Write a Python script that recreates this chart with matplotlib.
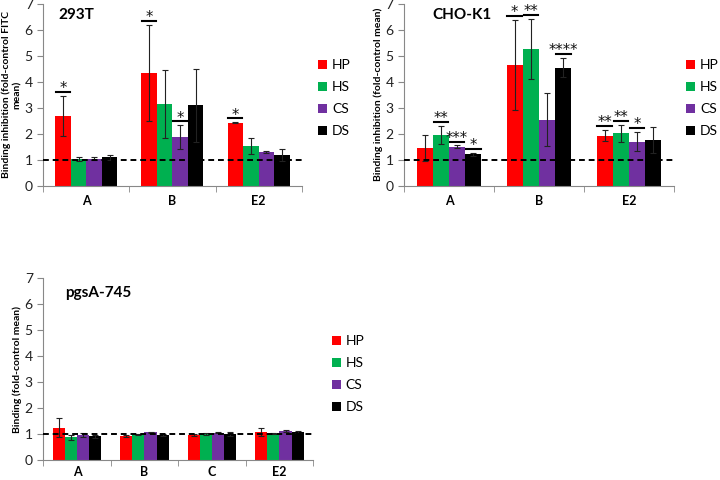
import numpy as np
import matplotlib.pyplot as plt

plt.rcParams['font.family'] = ['Lato', 'DejaVu Sans']

series = ['HP', 'HS', 'CS', 'DS']
colors = ['#ff0000', '#00b050', '#7030a0', '#000000']

# 293T
cats_293 = ['A', 'B', 'E2']
vals_293 = [[2.68, 4.33, 2.42],
            [1.01, 3.13, 1.53],
            [1.03, 1.86, 1.29],
            [1.08, 3.09, 1.17]]
err_293 = [[0.77, 1.86, 0.02],
           [0.07, 1.32, 0.30],
           [0.06, 0.46, 0.05],
           [0.08, 1.41, 0.23]]
stars_293 = [(0, 0, '*'), (1, 0, '*'), (1, 2, '*'), (2, 0, '*')]

# CHO-K1
cats_cho = ['A', 'B', 'E2']
vals_cho = [[1.46, 4.65, 1.92],
            [1.95, 5.26, 2.01],
            [1.49, 2.54, 1.69],
            [1.21, 4.54, 1.76]]
err_cho = [[0.50, 1.73, 0.22],
           [0.35, 1.16, 0.33],
           [0.05, 1.03, 0.38],
           [0.06, 0.38, 0.51]]
stars_cho = [(0, 1, '**'), (0, 2, '***'), (0, 3, '*'),
             (1, 0, '*'), (1, 1, '**'), (1, 3, '****'),
             (2, 0, '**'), (2, 1, '**'), (2, 2, '*')]

# pgsA-745
cats_pgs = ['A', 'B', 'C', 'E2']
vals_pgs = [[1.24, 0.92, 0.97, 1.08],
            [0.87, 0.99, 1.00, 1.01],
            [0.96, 1.06, 1.05, 1.11],
            [0.92, 0.95, 1.00, 1.07]]
err_pgs = [[0.37, 0.05, 0.03, 0.14],
           [0.10, 0.02, 0.03, 0.02],
           [0.06, 0.03, 0.03, 0.05],
           [0.06, 0.04, 0.08, 0.03]]
stars_pgs = []


def panel(ax, cats, vals, errs, stars, title, ylabel, title_xy, xpad=7):
    n = len(cats)
    x = np.arange(n)
    w = 0.18
    offs = (np.arange(4) - 1.5) * w
    for i in range(4):
        ax.bar(x + offs[i], vals[i], w, color=colors[i], label=series[i], zorder=2)
        ax.errorbar(x + offs[i], vals[i], yerr=errs[i], fmt='none', ecolor='#222222',
                    elinewidth=0.8, capsize=2.5, capthick=0.8, zorder=3)
    for c, s, txt in stars:
        top = vals[s][c] + errs[s][c]
        xc = x[c] + offs[s]
        ax.plot([xc - w * 0.45, xc + w * 0.45], [top + 0.15, top + 0.15], color='black', lw=1.5,
                zorder=4, clip_on=False)
        ax.text(xc, top + 0.10, txt, ha='center', va='baseline', fontsize=10.5,
                family='DejaVu Sans', color='#111111', zorder=4, clip_on=False)
    ax.axhline(1, color='black', ls=(0, (3, 2)), lw=1.4, zorder=4)
    ax.set_xlim(-0.5, n - 0.5)
    ax.set_ylim(0, 7)
    ax.set_yticks(range(8))
    ax.set_xticks(x)
    ax.set_xticklabels(cats, fontweight='bold', fontsize=9)
    ax.set_xticks(np.arange(n + 1) - 0.5, minor=True)
    ax.tick_params(axis='x', which='major', length=0, pad=xpad)
    ax.tick_params(axis='x', which='minor', length=4, color='#888888', direction='out')
    ax.tick_params(axis='y', length=4, color='#888888', labelsize=10, labelcolor='#222222')
    for sp in ['top', 'right']:
        ax.spines[sp].set_visible(False)
    for sp in ['left', 'bottom']:
        ax.spines[sp].set_color('#888888')
    ax.set_ylabel(ylabel, fontsize=7.5, fontweight='bold', labelpad=2)
    ax.text(title_xy[0], title_xy[1], title, transform=ax.transAxes, fontsize=11,
            fontweight='bold', ha='left', va='center')


fig = plt.figure(figsize=(7.2, 4.8), dpi=100)
ax1 = fig.add_axes([0.06, 0.6135, 0.359, 0.379])
ax2 = fig.add_axes([0.561, 0.6135, 0.375, 0.379])
ax3 = fig.add_axes([0.06, 0.0417, 0.375, 0.379])

panel(ax1, cats_293, vals_293, err_293, stars_293, '293T',
      'Binding inhibition (fold-control FITC\nmean)', (0.058, 0.94))
panel(ax2, cats_cho, vals_cho, err_cho, stars_cho, 'CHO-K1',
      'Binding inhibition (fold-control mean)', (0.107, 0.94))
panel(ax3, cats_pgs, vals_pgs, err_pgs, stars_pgs, 'pgsA-745',
      'Binding (fold-control mean)', (0.081, 0.918), xpad=4)

leg_kw = dict(loc='upper left', frameon=False, fontsize=10, borderpad=0, borderaxespad=0,
              handlelength=0.65, handleheight=0.65, handletextpad=0.35, labelspacing=0.72)
fig.legend(*ax1.get_legend_handles_labels(), bbox_to_anchor=(0.4417, 0.877), **leg_kw)
fig.legend(*ax2.get_legend_handles_labels(), bbox_to_anchor=(0.953, 0.877), **leg_kw)
fig.legend(*ax3.get_legend_handles_labels(), bbox_to_anchor=(0.461, 0.302), **leg_kw)

fig.savefig('out.png', dpi=100)
